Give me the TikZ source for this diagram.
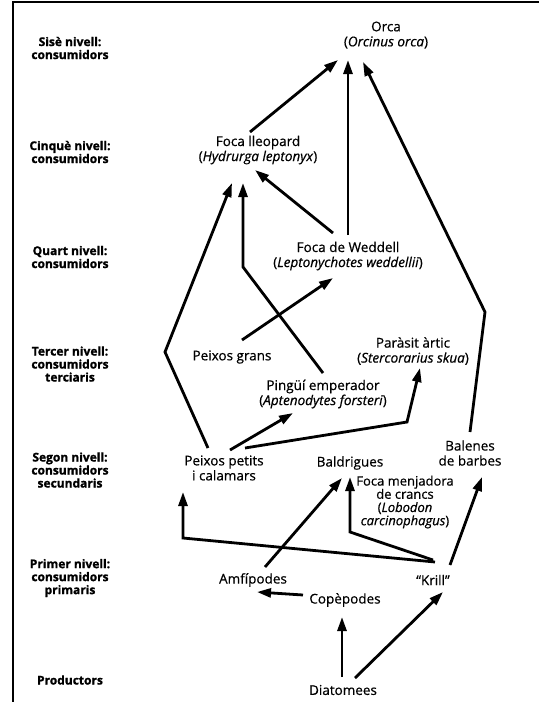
\documentclass[tikz,border=0pt]{standalone}
\usepackage{fontspec}
\setmainfont{Open Sans}
\newfontfamily\spfont[FakeBold=0.6]{Open Sans}
\newfontfamily\lvlfont[BoldFeatures={FakeBold=1.2}]{Open Sans}
\usetikzlibrary{arrows.meta,calc}
\tikzset{
  lvl/.style={font=\lvlfont\fontsize{12}{13}\selectfont\bfseries, align=center, inner sep=1pt},
  sp/.style={font=\spfont\fontsize{13.5}{15}\selectfont, align=center, inner sep=1pt},
  arr/.style={line width=2.8pt, -{Triangle[length=14pt,width=9pt]}, line join=miter},
  frame/.style={line width=2.8pt}
}
\begin{document}
\begin{tikzpicture}[x=1pt,y=-1pt]
\useasboundingbox (0,0) rectangle (539,702);
% frame
\coordinate (ftr) at (539,2);
\coordinate (ftl) at (13,2);
\coordinate (fbl) at (13,702);
\draw[frame] (ftr) -- (ftl) -- (fbl);
% level labels
\node[lvl] (l6) at (70,48) {Sisè nivell:\\consumidors};
\node[lvl] (l5) at (70,152) {Cinquè nivell:\\consumidors};
\node[lvl] (l4) at (70,257) {Quart nivell:\\consumidors};
\node[lvl] (l3) at (70,364) {Tercer nivell:\\consumidors\\terciaris};
\node[lvl] (l2) at (70,470) {Segon nivell:\\consumidors\\secundaris};
\node[lvl] (l1) at (70,578) {Primer nivell:\\consumidors\\primaris};
\node[lvl] (l0) at (70,680) {Productors};
% species
\node[sp] (orca) at (386,35) {Orca\\(\textit{Orcinus orca})};
\node[sp] (lleo) at (258,150) {Foca lleopard\\(\textit{Hydrurga leptonyx})};
\node[sp] (wedd) at (348,256) {Foca de Weddell\\(\textit{Leptonychotes weddellii})};
\node[sp] (grans) at (232,357) {Peixos grans};
\node[sp] (parasit) at (413,351) {Paràsit àrtic\\(\textit{Stercorarius skua})};
\node[sp] (ping) at (323,394) {Pingüí emperador\\(\textit{Aptenodytes forsteri})};
\node[sp] (petits) at (224,468) {Peixos petits\\i calamars};
\node[sp] (bald) at (350,463) {Baldrigues};
\node[sp] (balen) at (470,453) {Balenes\\de barbes};
\node[sp, font=\spfont\fontsize{13}{13.2}\selectfont] (crancs) at (405,502) {Foca menjadora\\de crancs\\(\textit{Lobodon}\\\textit{carcinophagus})};
\node[sp] (amfi) at (253,580) {Amfípodes};
\node[sp] (krill) at (433,580) {“Krill”};
\node[sp] (cope) at (345,600) {Copèpodes};
\node[sp] (diat) at (343,690) {Diatomees};
% bend points
\coordinate (b1) at (485,312);
\coordinate (b2) at (165,352);
\coordinate (b3) at (243,267);
\coordinate (b4) at (407,422);
\coordinate (b5) at (183,538);
\coordinate (b6) at (350,532);
% connectors
\draw[arr] ($(lleo)+(-8,-18)$) -- ($(orca)+(-48,25)$);
\draw[arr] ($(wedd)+(0,-21)$) -- ($(orca)+(-38,25)$);
\draw[arr] ($(balen)+(0,-21)$) -- (b1) -- ($(orca)+(-23,27)$);
\draw[arr] ($(petits)+(-16,-20)$) -- (b2) -- ($(lleo)+(-26,33)$);
\draw[arr] ($(ping)+(0,-21)$) -- (b3) -- ($(lleo)+(-15,33)$);
\draw[arr] ($(wedd)+(-15,-23)$) -- ($(lleo)+(-3,20)$);
\draw[arr] ($(grans)+(10,-17)$) -- ($(wedd)+(-15,22)$);
\draw[arr] ($(petits)+(6,-18)$) -- ($(ping)+(-30,19)$);
\draw[arr] ($(petits)+(21,-20)$) -- (b4) -- ($(parasit)+(7,17)$);
\draw[arr] ($(krill)+(2,-18)$) -- (b5) -- ($(petits)+(-41,24)$);
\draw[arr] ($(krill)+(0,-20)$) -- (b6) -- ($(bald)+(0,14)$);
\draw[arr] ($(amfi)+(12,-13)$) -- ($(bald)+(-8,15)$);
\draw[arr] ($(krill)+(17,-15)$) -- ($(balen)+(12,24)$);
\draw[arr] ($(cope)+(-42,-5)$) -- ($(amfi)+(4,12)$);
\draw[arr] ($(diat)+(-1,-13)$) -- ($(cope)+(-3,17)$);
\draw[arr] ($(diat)+(12,-12)$) -- ($(krill)+(10,12)$);
\end{tikzpicture}
\end{document}
